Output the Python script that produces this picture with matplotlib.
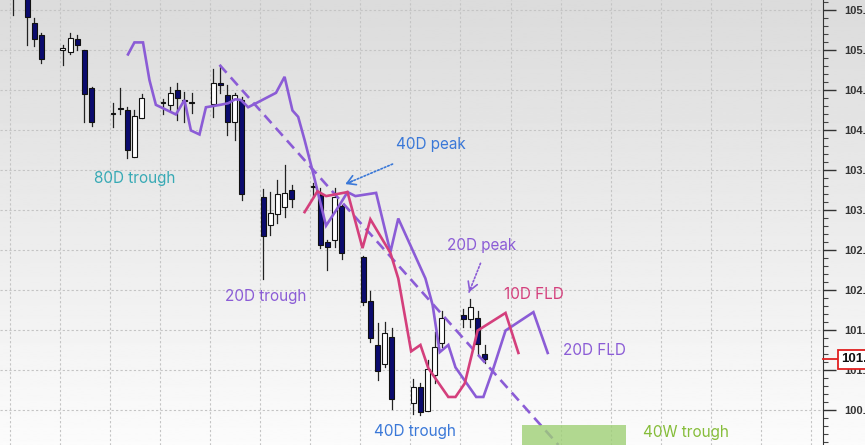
import numpy as np
import matplotlib
matplotlib.use("Agg")
import matplotlib.pyplot as plt
import matplotlib.transforms as mtransforms
from matplotlib.patches import Rectangle
from matplotlib.ticker import MultipleLocator

# daily candles: calendar day index (weekends left empty), OHLC
days = [0, 2, 3, 4, 7, 8, 9, 10, 11, 14, 15, 16, 17, 18, 21, 22, 23, 24, 25,
        28, 29, 30, 31, 32, 35, 36, 37, 38, 39, 42, 43, 44, 45, 46,
        49, 50, 51, 52, 53, 56, 57, 58, 59, 60, 63, 64, 65, 66]
opens = [105.70, 105.72, 105.33, 105.18, 105.00, 104.97, 105.13, 104.99, 104.52,
         104.21, 104.27, 104.24, 103.66, 104.15, 104.35, 104.31, 104.49, 104.37, 104.35,
         104.32, 104.58, 104.43, 104.09, 104.37, 103.16, 102.81, 102.95, 103.03, 103.25,
         103.28, 103.18, 102.60, 102.62, 103.04, 102.41, 101.86, 101.31, 101.07, 101.41,
         100.58, 100.78, 100.49, 100.94, 101.34, 101.68, 101.63, 101.65, 101.20]
highs = [105.85, 105.80, 105.40, 105.21, 105.06, 105.21, 105.18, 105.00, 104.53,
         104.33, 104.52, 104.28, 104.24, 104.44, 104.38, 104.53, 104.58, 104.47, 104.46,
         104.76, 104.81, 104.56, 104.46, 104.41, 103.26, 103.22, 103.37, 103.56, 103.31,
         103.33, 103.27, 102.62, 103.27, 103.06, 102.42, 101.99, 101.58, 101.60, 101.52,
         100.88, 100.83, 101.12, 101.47, 101.74, 101.76, 101.89, 101.74, 101.31]
lows = [105.43, 105.06, 105.05, 104.83, 104.81, 104.95, 104.99, 104.09, 104.05,
        104.03, 104.19, 103.65, 103.66, 104.14, 104.19, 104.24, 104.12, 104.10, 104.21,
        104.16, 104.46, 103.93, 103.87, 103.12, 102.13, 102.68, 102.83, 102.91, 103.03,
        103.16, 102.52, 102.25, 102.53, 102.38, 101.81, 101.35, 100.87, 101.03, 100.51,
        100.45, 100.43, 100.49, 100.83, 101.28, 101.53, 101.53, 101.18, 101.08]
closes = [105.75, 105.41, 105.13, 104.88, 105.02, 105.14, 105.06, 104.44, 104.10,
          104.20, 104.26, 103.74, 104.17, 104.40, 104.33, 104.46, 104.39, 104.36, 104.33,
          104.58, 104.56, 104.10, 104.43, 103.20, 102.67, 102.96, 103.19, 103.21, 103.13,
          103.30, 102.56, 102.54, 103.16, 102.46, 101.85, 101.40, 100.98, 101.46, 100.64,
          100.79, 100.47, 101.01, 101.29, 101.65, 101.63, 101.78, 101.32, 101.13]

# 20D FLD (purple) and 10D FLD (pink)
fld20_x = [16.5, 17.4, 18.6, 19.5, 20.4, 23.2, 24.4, 25.3, 26.5, 27.4, 29.4, 30.5, 31.5,
           32.3, 33.3, 34.4, 37.2, 38.4, 39.5, 40.3, 41.2, 42.3, 44.2, 46.1, 47.2, 48.3,
           51.2, 53.2, 54.3, 58.1, 59.1, 60.1, 61.3, 62.3, 65.2, 66.2, 67.5, 69.3, 73.2, 75.2]
fld20_y = [104.94, 105.09, 105.09, 104.62, 104.31, 104.19, 104.37, 103.99, 103.94, 104.28,
           104.31, 104.33, 104.38, 104.37, 104.28, 104.33, 104.46, 104.66, 104.24, 104.16,
           103.87, 103.49, 102.80, 103.06, 103.22, 103.17, 103.21, 102.47, 102.89, 102.14,
           101.81, 101.22, 101.31, 101.03, 100.66, 100.66, 100.99, 101.49, 101.72, 101.21]
fld10_x = [41.2, 43.0, 44.2, 47.2, 49.3, 50.4, 53.2, 54.3, 56.1, 57.4, 58.5, 61.3, 62.3,
           63.6, 65.4, 69.3, 71.1]
fld10_y = [102.97, 103.23, 103.17, 103.22, 102.52, 102.88, 102.46, 102.14, 101.23, 101.31,
           101.02, 100.66, 100.66, 100.83, 101.49, 101.71, 101.21]

# trend line and 40W trough window
trend_x = [29.3, 76.7]
trend_y = [104.81, 100.06]
box_x = [71.6, 86.1]
box_y = [99.9, 100.31]

purple = "#8b5cd6"
pink = "#d43f7c"
blue = "#3a78d8"
navy = "#0b0b6e"

fig = plt.figure(figsize=(8.65, 4.45), dpi=100)

# gradient background behind everything (grey at top, near white at bottom)
bg = fig.add_axes([0, 0, 1, 1], zorder=-5)
grad = np.linspace(0.86, 0.985, 256).reshape(-1, 1)
bg.imshow(grad, aspect="auto", cmap="gray", vmin=0, vmax=1, extent=[0, 1, 0, 1])
bg.axis("off")

ax = fig.add_axes([0, 0, 823 / 865, 1])
ax.set_facecolor("none")
ax.set_xlim(-1.4, 113.7)
ax.set_ylim(100.06, 105.62)

# grid
for gx in np.arange(0, 114, 7):
    ax.axvline(gx, color="#c4c4c4", lw=0.8, ls=(0, (2, 2)), zorder=0)
for gy in np.arange(100.5, 105.6, 0.5):
    ax.axhline(gy, color="#c4c4c4", lw=0.8, ls=(0, (2, 2)), zorder=0)

# candles
w = 0.68
for d, o, h, l, c in zip(days, opens, highs, lows, closes):
    xc = d + 0.4
    ax.plot([xc, xc], [l, h], color="#222222", lw=0.9, zorder=2)
    fc = navy if c < o else "white"
    lo, hi = min(o, c), max(o, c)
    ax.add_patch(Rectangle((xc - w / 2, lo), w, max(hi - lo, 0.012), facecolor=fc,
                           edgecolor="#111111", lw=0.8, zorder=3))

# cycle lines
ax.plot(fld20_x, fld20_y, color=purple, lw=1.9, zorder=4, solid_joinstyle="miter")
ax.plot(fld10_x, fld10_y, color=pink, lw=1.9, zorder=5, solid_joinstyle="miter")
ax.plot(trend_x, trend_y, color=purple, lw=1.9, dashes=(4, 2.4), zorder=4)
ax.add_patch(Rectangle((box_x[0], box_y[0]), box_x[1] - box_x[0], box_y[1] - box_y[0],
                       facecolor="#9fd076", alpha=0.8, edgecolor="none", zorder=6))

# labels
tf = dict(family="Inter", fontsize=11, ha="center", va="center", zorder=7)
ax.text(17.4, 103.39, "80D trough", color="#38aab5", **tf)
ax.text(35.7, 101.92, "20D trough", color=purple, **tf)
ax.text(58.8, 103.81, "40D peak", color=blue, **tf)
ax.text(65.9, 102.55, "20D peak", color=purple, **tf)
ax.text(73.2, 101.94, "10D FLD", color=pink, **tf)
ax.text(81.7, 101.24, "20D FLD", color=purple, **tf)
ax.text(56.7, 100.23, "40D trough", color=blue, **tf)
ax.text(94.5, 100.22, "40W trough", color="#86bd3a", **tf)

# dotted pointer arrows
def pointer(x0, y0, x1, y1, col):
    ax.annotate("", xy=(x1, y1), xytext=(x0, y0),
                arrowprops=dict(arrowstyle="-", color=col, lw=1.2, ls=(0, (1, 1.2)),
                                shrinkA=0, shrinkB=0), zorder=7)
    ax.annotate("", xy=(x1, y1), xytext=(x1 + (x0 - x1) * 0.15, y1 + (y0 - y1) * 0.15),
                arrowprops=dict(arrowstyle="->,head_length=0.6,head_width=0.35", color=col,
                                lw=1.2, shrinkA=0, shrinkB=0), zorder=7)

pointer(53.5, 103.57, 46.9, 103.32, blue)
pointer(65.8, 102.33, 64.2, 101.97, purple)

# price axis on the right
ax.yaxis.tick_right()
ticks = np.arange(100.5, 105.6, 0.5)
ax.set_yticks(ticks)
ax.set_yticklabels(["%.2f" % t for t in ticks], fontweight="bold",
                   family="Liberation Sans")
ax.yaxis.set_minor_locator(MultipleLocator(0.1))
ax.tick_params(axis="y", which="major", length=9.5, width=1, color="#333333",
               pad=6, labelsize=8, labelcolor="#333333")
ax.tick_params(axis="y", which="minor", length=3.8, width=0.8, color="#444444")
ax.tick_params(axis="x", which="both", bottom=False, labelbottom=False)
for s in ["top", "left", "bottom"]:
    ax.spines[s].set_visible(False)
ax.spines["right"].set_color("#333333")

# last price marker
last = closes[-1]
tr = mtransforms.blended_transform_factory(fig.transFigure, ax.transData)
ax.plot([823 / 865, 837 / 865], [last, last], color="#e02020", lw=1.3,
        transform=tr, clip_on=False, zorder=8)
fig.text(841 / 865, last, "%.2f" % last, transform=tr, fontsize=9.5, fontweight="bold",
         family="Liberation Sans", color="#111111", va="center", ha="left",
         bbox=dict(boxstyle="square,pad=0.25", facecolor="white", edgecolor="#e02020",
                   lw=1.3), zorder=9)

fig.savefig("out.png", dpi=100)
